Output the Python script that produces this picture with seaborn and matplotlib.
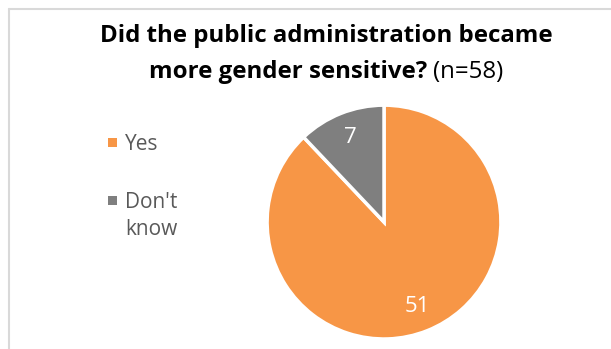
import matplotlib
matplotlib.use("Agg")
import matplotlib.pyplot as plt
from matplotlib.lines import Line2D
from matplotlib.patches import Rectangle
import seaborn as sns

sns.set_theme(style="white")
plt.rcParams['font.family'] = ['Open Sans', 'DejaVu Sans']

categories = ["Yes", "Don't\nknow"]
values = [51, 7]
colors = ["#F79646", "#7F7F7F"]
title_line1 = "Did the public administration became"
title_line2 = "more gender sensitive? "
title_note = "(n=58)"

total = sum(values)
W_PX, H_PX = 611, 349

fig = plt.figure(figsize=(W_PX / 100, H_PX / 100), dpi=100)
fig.patch.set_facecolor("white")

ax = fig.add_axes([0.437, 0.0287, 0.383, 0.670])
wedges, texts, autotexts = ax.pie(
    values, colors=colors, startangle=90, counterclock=False,
    autopct=lambda p: f"{round(p * total / 100):d}", pctdistance=0.78,
    wedgeprops=dict(edgecolor="white", linewidth=2.5),
    textprops=dict(color="white", fontsize=16),
)
ax.set_xlim(-1, 1)
ax.set_ylim(-1, 1)
ax.set_aspect("equal")
ax.axis("off")

# legend (manual, to match layout)
leg_sq_y = [138, 196]        # top of square, px
leg_txt_base = [150, 207]    # baseline of first text line, px
LINE_PX = 28
for lab, col, sy, by in zip(categories, colors, leg_sq_y, leg_txt_base):
    fig.add_artist(Rectangle((108 / W_PX, 1 - (sy + 9) / H_PX), 9 / W_PX, 9 / H_PX,
                             transform=fig.transFigure, facecolor=col, edgecolor="none"))
    last_base = by + LINE_PX * lab.count("\n")
    fig.text(125 / W_PX, 1 - last_base / H_PX, lab, ha="left", va="baseline", fontsize=15,
             color="#595959", linespacing=1.37)

TS = 17.3
cx = 326 / W_PX
fig.text(cx, 1 - 42 / H_PX, title_line1, ha="center", va="baseline",
         fontsize=TS, fontweight="bold", color="black")
t1 = fig.text(0.0, 1 - 78 / H_PX, title_line2, ha="left", va="baseline",
              fontsize=TS, fontweight="bold", color="black")
t2 = fig.text(0.0, 1 - 78 / H_PX, title_note, ha="left", va="baseline", fontsize=TS, color="black")
fig.canvas.draw()
r = fig.canvas.get_renderer()
w1 = t1.get_window_extent(r).width
w2 = t2.get_window_extent(r).width
W = fig.bbox.width
t1.set_x((cx * W - (w1 + w2) / 2) / W)
t2.set_x((cx * W - (w1 + w2) / 2 + w1) / W)

fig.add_artist(Line2D([9 / W_PX, 9 / W_PX], [0, 1 - 9 / H_PX], transform=fig.transFigure,
                      color="#D9D9D9", linewidth=1.5))
fig.add_artist(Line2D([9 / W_PX, 1], [1 - 9 / H_PX, 1 - 9 / H_PX], transform=fig.transFigure,
                      color="#D9D9D9", linewidth=1.5))

fig.savefig("out.png", dpi=100)
